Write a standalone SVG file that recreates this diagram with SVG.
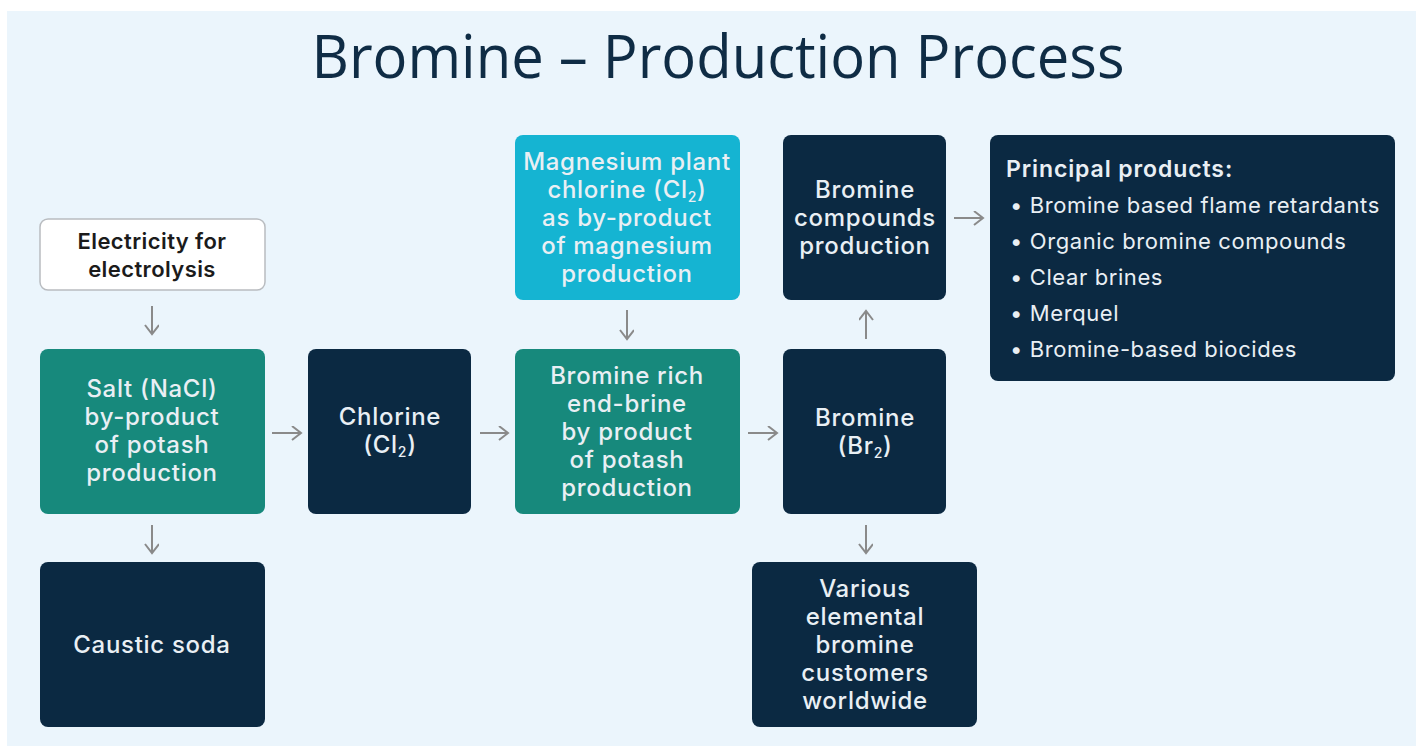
<svg xmlns="http://www.w3.org/2000/svg" width="1416" height="746" viewBox="0 0 1416 746">
<defs>
<style>
.navy{fill:#0b2942}
.teal{fill:#17897c}
.cyan{fill:#15b4d2}
.t{font-family:Inter,"Noto Sans","Liberation Sans",sans-serif;font-size:24px;font-weight:500;fill:#e9eff4;text-anchor:middle;letter-spacing:0.7px}
.d{font-family:Inter,"Noto Sans","Liberation Sans",sans-serif;font-size:22px;font-weight:600;fill:#1b1b1b;text-anchor:middle;letter-spacing:0.4px}
.p{font-family:Inter,"Noto Sans","Liberation Sans",sans-serif;font-size:22px;font-weight:400;fill:#e9eff4;letter-spacing:0.6px}
.ph{font-size:23px;font-weight:600;letter-spacing:0.9px}
.sub{font-size:14px}
.conn{stroke:#8a8a8a;stroke-width:2;fill:none;marker-end:url(#ah)}
</style>
<marker id="ah" markerWidth="14" markerHeight="16" refX="10" refY="7" orient="auto" markerUnits="userSpaceOnUse">
<path d="M1,0 L10,7 L1,14" fill="none" stroke="#8a8a8a" stroke-width="2"/>
</marker>
</defs>
<rect width="1416" height="746" fill="#ffffff"/>
<rect x="7" y="11" width="1409" height="735" fill="#ebf5fc"/>
<text x="718" y="78" font-family="'Open Sans','Noto Sans',sans-serif" font-size="60" fill="#0f2c45" text-anchor="middle" textLength="813" lengthAdjust="spacingAndGlyphs">Bromine – Production Process</text>

<g id="connectors">
<line class="conn" x1="152" y1="306" x2="152" y2="334"/>
<line class="conn" x1="152" y1="525" x2="152" y2="553"/>
<line class="conn" x1="272" y1="433" x2="301" y2="433"/>
<line class="conn" x1="480" y1="433" x2="508" y2="433"/>
<line class="conn" x1="627" y1="310" x2="627" y2="339"/>
<line class="conn" x1="748" y1="433" x2="777" y2="433"/>
<line class="conn" x1="866" y1="339" x2="866" y2="311"/>
<line class="conn" x1="866" y1="525" x2="866" y2="553"/>
<line class="conn" x1="954" y1="218" x2="983" y2="218"/>
</g>

<g id="electricity">
<rect x="40" y="219" width="225" height="71" rx="8" fill="#ffffff" stroke="#b9bcc0" stroke-width="1.5"/>
<text class="d" x="152" y="249">Electricity for</text>
<text class="d" x="152" y="277">electrolysis</text>
</g>

<g id="salt">
<rect class="teal" x="40" y="349" width="225" height="165" rx="8"/>
<text class="t" x="152" y="397">Salt (NaCl)</text>
<text class="t" x="152" y="425">by-product</text>
<text class="t" x="152" y="453">of potash</text>
<text class="t" x="152" y="481">production</text>
</g>

<g id="caustic">
<rect class="navy" x="40" y="562" width="225" height="165" rx="8"/>
<text class="t" x="152" y="653">Caustic soda</text>
</g>

<g id="chlorine">
<rect class="navy" x="308" y="349" width="163" height="165" rx="8"/>
<text class="t" x="390" y="425">Chlorine</text>
<text class="t" x="390" y="453">(Cl<tspan class="sub" baseline-shift="-4">2</tspan>)</text>
</g>

<g id="magnesium">
<rect class="cyan" x="515" y="135" width="225" height="165" rx="8"/>
<text class="t" x="627" y="170">Magnesium plant</text>
<text class="t" x="627" y="198">chlorine (Cl<tspan class="sub" baseline-shift="-4">2</tspan>)</text>
<text class="t" x="627" y="226">as by-product</text>
<text class="t" x="627" y="254">of magnesium</text>
<text class="t" x="627" y="282">production</text>
</g>

<g id="brine">
<rect class="teal" x="515" y="349" width="225" height="165" rx="8"/>
<text class="t" x="627" y="384">Bromine rich</text>
<text class="t" x="627" y="412">end-brine</text>
<text class="t" x="627" y="440">by product</text>
<text class="t" x="627" y="468">of potash</text>
<text class="t" x="627" y="496">production</text>
</g>

<g id="compounds">
<rect class="navy" x="783" y="135" width="163" height="165" rx="8"/>
<text class="t" x="865" y="198">Bromine</text>
<text class="t" x="865" y="226">compounds</text>
<text class="t" x="865" y="254">production</text>
</g>

<g id="bromine">
<rect class="navy" x="783" y="349" width="163" height="165" rx="8"/>
<text class="t" x="865" y="426">Bromine</text>
<text class="t" x="865" y="454">(Br<tspan class="sub" baseline-shift="-4">2</tspan>)</text>
</g>

<g id="customers">
<rect class="navy" x="752" y="562" width="225" height="165" rx="8"/>
<text class="t" x="865" y="597">Various</text>
<text class="t" x="865" y="625">elemental</text>
<text class="t" x="865" y="653">bromine</text>
<text class="t" x="865" y="681">customers</text>
<text class="t" x="865" y="709">worldwide</text>
</g>

<g id="products">
<rect class="navy" x="990" y="135" width="405" height="246" rx="8"/>
<text class="p ph" x="1006" y="177">Principal products:</text>
<text class="p" x="1010" y="213">• Bromine based flame retardants</text>
<text class="p" x="1010" y="249">• Organic bromine compounds</text>
<text class="p" x="1010" y="285">• Clear brines</text>
<text class="p" x="1010" y="321">• Merquel</text>
<text class="p" x="1010" y="357">• Bromine-based biocides</text>
</g>
</svg>
